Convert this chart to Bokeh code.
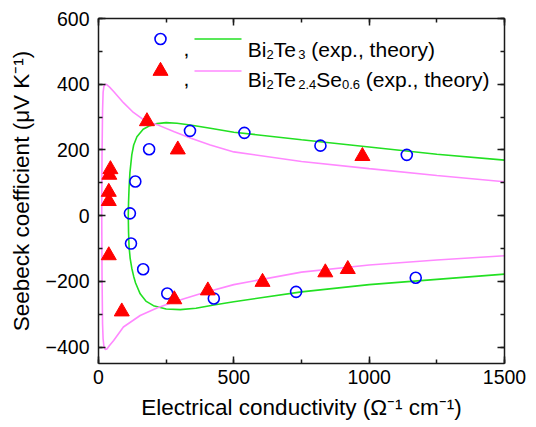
from bokeh.plotting import figure
from bokeh.models import Range1d, LinearAxis, SingleIntervalTicker, Label
from bokeh.embed import file_html
from bokeh.resources import INLINE

FONT = "Liberation Sans"

# Experimental Seebeck coefficient vs electrical conductivity
bt_sigma = [116, 136, 187, 338, 539, 820, 1139, 120, 165, 254, 426, 730, 1172]
bt_seebeck = [7, 104, 202, 258, 252, 213, 185, -85, -163, -237, -252, -232, -189]

bts_sigma = [179, 293, 975, 44, 40, 38, 38, 38, 86, 280, 404, 606, 838, 921]
bts_seebeck = [287, 201, 181, 141, 124, 72, 44, -121, -292, -255, -228, -202, -173, -163]

# Theoretical curves (p-type branch above, n-type branch below)
bt_theory_sigma = [1500, 1250, 1000, 750, 500, 413, 339, 290, 250, 216, 190, 165, 142, 130,
                   123, 116, 113, 111, 110, 111, 113, 117, 123, 130, 137, 154, 175, 203,
                   250, 302, 360, 426, 500, 750, 1000, 1250, 1500]
bt_theory_seebeck = [169, 187, 209, 231, 254, 266, 276, 281, 283, 280, 274, 263, 240, 215,
                     185, 130, 86, 40, 0, -50, -95, -130, -160, -185, -205, -238, -260, -274,
                     -284, -286, -282, -272, -262, -232, -210, -194, -178]

bts_theory_sigma = [1500, 1250, 1000, 750, 500, 413, 339, 280, 216, 166, 129, 93, 56, 40,
                    30, 25, 20, 17, 15, 13, 12, 13, 15, 17, 20, 25, 31, 40, 56, 92, 154,
                    216, 277, 376, 500, 750, 1000, 1250, 1500]
bts_theory_seebeck = [103, 122, 143, 165, 194, 215, 236, 255, 277, 292, 314, 343, 378, 392,
                      399, 400, 394, 375, 320, 180, 0, -180, -330, -375, -398, -407, -406,
                      -396, -380, -339, -304, -281, -263, -238, -210, -172, -150, -135, -122]

X_RANGE = (0, 1500)
Y_RANGE = (-450, 600)

# Frame geometry (pixels)
W, H = 536, 427
FL, FR, FT, FB = 98, 32, 18, 64
FW, FH = W - FL - FR, H - FT - FB

p = figure(width=W, height=H, output_backend="svg", toolbar_location=None,
           x_range=Range1d(*X_RANGE), y_range=Range1d(*Y_RANGE),
           min_border_left=FL, min_border_right=FR, min_border_top=FT, min_border_bottom=FB,
           x_axis_label="Electrical conductivity (\u03a9\u207b\u00b9 cm\u207b\u00b9)",
           y_axis_label="Seebeck coefficient (\u03bcV K\u207b\u00b9)")
p.outline_line_color = None
p.grid.visible = False
p.background_fill_color = "white"
p.border_fill_color = "white"


def style_axis(ax, ticker, labels=True):
    ax.ticker = ticker
    ax.axis_line_color = "#1a1a1a"
    ax.axis_line_width = 1.5
    ax.major_tick_line_color = "#1a1a1a"
    ax.minor_tick_line_color = "#1a1a1a"
    ax.major_tick_line_width = 1.5
    ax.minor_tick_line_width = 1.5
    ax.major_tick_in = 7
    ax.major_tick_out = 0
    ax.minor_tick_in = 4
    ax.minor_tick_out = 0
    if labels:
        ax.major_label_text_font = FONT
        ax.major_label_text_font_size = "19.5px"
        ax.major_label_text_color = "black"
        ax.axis_label_text_font = FONT
        ax.axis_label_text_font_size = "22.5px"
        ax.axis_label_text_font_style = "normal"
        ax.axis_label_text_color = "black"
    else:
        ax.major_label_text_font_size = "0px"
        ax.major_label_text_color = None


x_ticks = lambda: SingleIntervalTicker(interval=500, num_minor_ticks=2)
y_ticks = lambda: SingleIntervalTicker(interval=200, num_minor_ticks=2)

style_axis(p.xaxis[0], x_ticks())
style_axis(p.yaxis[0], y_ticks())
p.xaxis[0].major_label_standoff = 6
p.xaxis[0].axis_label_standoff = 8
p.yaxis[0].major_label_standoff = 9
p.yaxis[0].axis_label_standoff = 9

top_axis = LinearAxis()
style_axis(top_axis, x_ticks(), labels=False)
p.add_layout(top_axis, "above")
right_axis = LinearAxis()
style_axis(right_axis, y_ticks(), labels=False)
p.add_layout(right_axis, "right")

GREEN = "#22e022"
PINK = "#ff88ff"
BLUE = "#0000ff"
RED = "#ff0000"

p.line(bt_theory_sigma, bt_theory_seebeck, line_color=GREEN, line_width=1.6)
p.line(bts_theory_sigma, bts_theory_seebeck, line_color=PINK, line_width=1.6)
p.scatter(bt_sigma, bt_seebeck, marker="circle", size=11, fill_color=None,
          line_color=BLUE, line_width=1.6)
p.scatter(bts_sigma, bts_seebeck, marker="triangle", size=15, fill_color=RED,
          line_color=RED)


# ---- legend, laid out in pixel space and mapped into data space ----
def px_x(px):
    return X_RANGE[0] + (px - FL) / FW * (X_RANGE[1] - X_RANGE[0])


def px_y(py):
    return Y_RANGE[1] - (py - FT) / FH * (Y_RANGE[1] - Y_RANGE[0])


# Arial / Liberation Sans advance widths (1/1000 em)
ADV = {"B": 667, "i": 222, "T": 611, "e": 556, "S": 667, " ": 278, "(": 333, ")": 333,
       "x": 500, "p": 556, ".": 278, ",": 278, "t": 278, "h": 556, "o": 556, "r": 333,
       "y": 500, "0": 556, "2": 556, "3": 556, "4": 556, "6": 556}


def text_width(s, size):
    return sum(ADV[c] for c in s) * size / 1000.0


MAIN, SUB = 21, 13


def legend_row(parts, px, baseline):
    for txt, sub in parts:
        size = SUB if sub else MAIN
        lead = len(txt) - len(txt.lstrip(" "))
        px += text_width(" " * lead, size)
        txt = txt.lstrip(" ")
        p.add_layout(Label(x=px_x(px), y=px_y(baseline + (5 if sub else 0)), text=txt,
                           text_font=FONT, text_font_size=f"{size}px",
                           text_baseline="alphabetic", text_align="left",
                           text_color="black"))
        px += text_width(txt, size)


rows = [
    (48.5, 38.5, "circle", [("Bi", False), ("2", True), ("Te", False), ("3", True),
                            (" (exp., theory)", False)], GREEN),
    (78.5, 70.5, "triangle", [("Bi", False), ("2", True), ("Te", False), ("2.4", True),
                              ("Se", False), ("0.6", True), (" (exp., theory)", False)], PINK),
]
for baseline, mid, marker, parts, color in rows:
    if marker == "circle":
        p.scatter([px_x(160)], [px_y(mid)], marker="circle", size=11, fill_color=None,
                  line_color=BLUE, line_width=1.6)
    else:
        p.scatter([px_x(160)], [px_y(mid)], marker="triangle", size=15, fill_color=RED,
                  line_color=RED)
    p.add_layout(Label(x=px_x(183), y=px_y(baseline), text=",", text_font=FONT,
                       text_font_size=f"{MAIN}px", text_baseline="alphabetic",
                       text_color="black"))
    p.line([px_x(194), px_x(241)], [px_y(mid), px_y(mid)], line_color=color, line_width=1.6)
    legend_row(parts, 247.3, baseline)

open("out.html", "w").write(file_html(p, INLINE))
